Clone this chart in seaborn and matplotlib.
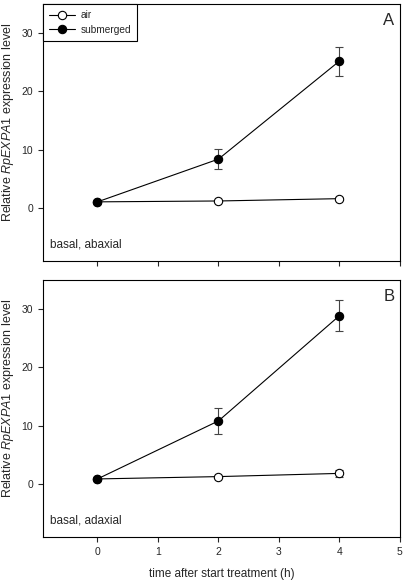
import pandas as pd
import seaborn as sns
import matplotlib.pyplot as plt

# data
hours = [0, 2, 4]

a_air = [1.0, 1.15, 1.55]
a_air_err = [0.1, 0.15, 0.3]
a_sub = [1.0, 8.35, 25.2]
a_sub_err = [0.1, 1.75, 2.5]

b_air = [0.85, 1.25, 1.8]
b_air_err = [0.1, 0.15, 0.55]
b_sub = [0.85, 10.8, 28.85]
b_sub_err = [0.1, 2.3, 2.65]

panel_letters = ["A", "B"]
panel_notes = ["basal, abaxial", "basal, adaxial"]

sns.set_style("ticks")
plt.rcParams["font.family"] = ["Liberation Sans", "DejaVu Sans"]
plt.rcParams["mathtext.fontset"] = "custom"
plt.rcParams["mathtext.rm"] = "Liberation Sans"
plt.rcParams["mathtext.it"] = "Liberation Sans:italic"

fig = plt.figure(figsize=(4.06, 5.83), dpi=100)
ax_a = fig.add_axes([0.106, 0.553, 0.879, 0.440])
ax_b = fig.add_axes([0.106, 0.079, 0.879, 0.441])

panels = [
    (ax_a, a_air, a_air_err, a_sub, a_sub_err),
    (ax_b, b_air, b_air_err, b_sub, b_sub_err),
]

for i, (ax, air, air_err, sub, sub_err) in enumerate(panels):
    df = pd.DataFrame({"time": hours, "air": air, "submerged": sub})

    ax.errorbar(hours, air, yerr=air_err, fmt="none", ecolor="#444444",
                elinewidth=0.8, capsize=3, capthick=0.8, zorder=2)
    ax.errorbar(hours, sub, yerr=sub_err, fmt="none", ecolor="#444444",
                elinewidth=0.8, capsize=3, capthick=0.8, zorder=2)

    sns.lineplot(data=df, x="time", y="air", ax=ax, color="black", lw=0.8,
                 marker="o", markersize=6, markerfacecolor="white",
                 markeredgecolor="black", markeredgewidth=0.8,
                 label="air", zorder=3)
    sns.lineplot(data=df, x="time", y="submerged", ax=ax, color="black", lw=0.8,
                 marker="o", markersize=6, markerfacecolor="black",
                 markeredgecolor="black", markeredgewidth=0.8,
                 label="submerged", zorder=4)

    ax.set_xlim(-0.9, 5)
    ax.set_ylim(-9.1, 35)
    ax.set_xticks([0, 1, 2, 3, 4, 5])
    ax.set_yticks([0, 10, 20, 30])
    ax.tick_params(labelsize=7.5, length=3.5, width=0.8, direction="out")
    for s in ax.spines.values():
        s.set_linewidth(0.8)
        s.set_color("black")

    ax.set_ylabel(r"Relative $\mathit{RpEXPA1}$ expression level", fontsize=9)
    ax.yaxis.set_label_coords(-0.075, 0.54)

    ax.text(0.985, 0.965, panel_letters[i], transform=ax.transAxes,
            ha="right", va="top", fontsize=12)
    ax.text(0.02, 0.04, panel_notes[i], transform=ax.transAxes,
            ha="left", va="bottom", fontsize=8.5)

    if i == 0:
        ax.set_xlabel("")
        ax.tick_params(axis="x", labelbottom=False)
        leg = ax.legend(loc="upper left", fontsize=7.3, frameon=True,
                        fancybox=False, edgecolor="black", framealpha=1,
                        borderaxespad=0, handlelength=2.6, handletextpad=0.5,
                        borderpad=0.6, labelspacing=0.45)
        leg.get_frame().set_linewidth(0.8)
    else:
        ax.set_xlabel("time after start treatment (h)", fontsize=8.5, labelpad=8)
        ax.get_legend().remove()

fig.savefig("out.png", dpi=100)
